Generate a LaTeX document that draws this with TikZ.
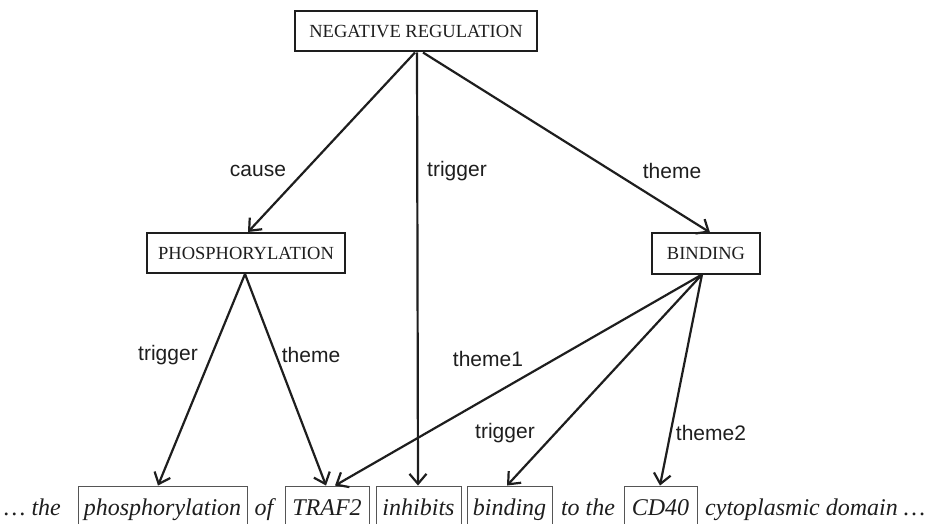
\documentclass[tikz,border=0pt]{standalone}
\usepackage{fontspec}
\setmainfont{Liberation Serif}
\newfontfamily\labelfont{Liberation Sans}
\usetikzlibrary{arrows.meta}
\definecolor{ink}{HTML}{1E1E1E}
\definecolor{boxline}{HTML}{555555}
\tikzset{
  event/.style={draw=ink, line width=2pt, inner xsep=4pt, inner ysep=0pt,
    minimum height=40pt, font=\fontsize{18.5}{20}\selectfont, text=ink},
  word/.style={inner xsep=0pt, inner ysep=0pt, text height=19pt, text depth=3pt,
    minimum height=42pt, font=\fontsize{24}{28}\selectfont\itshape, text=ink},
  wordbox/.style={word, draw=boxline, line width=0.9pt},
  rel/.style={draw=ink, line width=2.2pt,
    -{Straight Barb[length=10pt,width=17pt,line width=2.2pt]}},
  lbl/.style={font=\labelfont\fontsize{21}{24}\selectfont, text=ink, inner sep=0pt}
}
\begin{document}
\begin{tikzpicture}[x=1pt,y=-1pt]
\useasboundingbox (0,0) rectangle (930,524);

% event nodes
\node[event, minimum width=242pt] (neg)  at (416,31.5) {NEGATIVE REGULATION};
\node[event, minimum width=198pt] (phos) at (246,253)  {PHOSPHORYLATION};
\node[event, minimum width=108pt] (bind) at (706,253.5) {BINDING};

% sentence
\node[word, anchor=west] (w1) at (4,507) {\dots\ the};
\node[wordbox, minimum width=169pt] (tphos) at (162.5,507) {phosphorylation};
\node[word] (w2) at (264,507) {of};
\node[wordbox, minimum width=84pt] (ttraf) at (327,507) {TRAF2};
\node[wordbox, minimum width=85pt] (tinh) at (418.5,507) {inhibits};
\node[wordbox, minimum width=85pt] (tbind) at (509.5,507) {binding};
\node[word] (w3) at (588,507) {to the};
\node[wordbox, minimum width=73pt] (tcd) at (660.5,507) {CD40};
\node[word, anchor=west] (w4) at (705,507) {cytoplasmic domain \dots};

% relations from the negative regulation
\draw[rel] ([xshift=-1pt]neg.south) -- ([xshift=2pt]phos.north);
\draw[rel] ([xshift=1pt]neg.south) -- ([xshift=-0.5pt]tinh.north);
\draw[rel] ([xshift=7pt]neg.south) -- ([xshift=4pt]bind.north);

% relations from the phosphorylation
\draw[rel] ([xshift=-1pt]phos.south) -- ([xshift=-4.5pt]tphos.north);
\draw[rel] ([xshift=-1pt]phos.south) -- ([xshift=-1pt]ttraf.north);

% relations from the binding
\draw[rel] ([xshift=-4pt]bind.south) -- ([xshift=8pt]ttraf.north);
\draw[rel] ([xshift=-4pt]bind.south) -- ([xshift=-2.5pt]tbind.north);
\draw[rel] ([xshift=-4pt]bind.south) -- ([xshift=-0.5pt]tcd.north);

% relation labels
\node[lbl] (lcause) at (258,171) {cause};
\node[lbl] (ltrig1) at (457,171) {trigger};
\node[lbl] (ltheme) at (672,171) {theme};
\node[lbl] (ltrig2) at (168,355) {trigger};
\node[lbl] (ltheme2) at (311,355) {theme};
\node[lbl] (ltheme1) at (488,359) {theme1};
\node[lbl] (ltrig3) at (505,433) {trigger};
\node[lbl] (ltheme3) at (711,433) {theme2};
\end{tikzpicture}
\end{document}
